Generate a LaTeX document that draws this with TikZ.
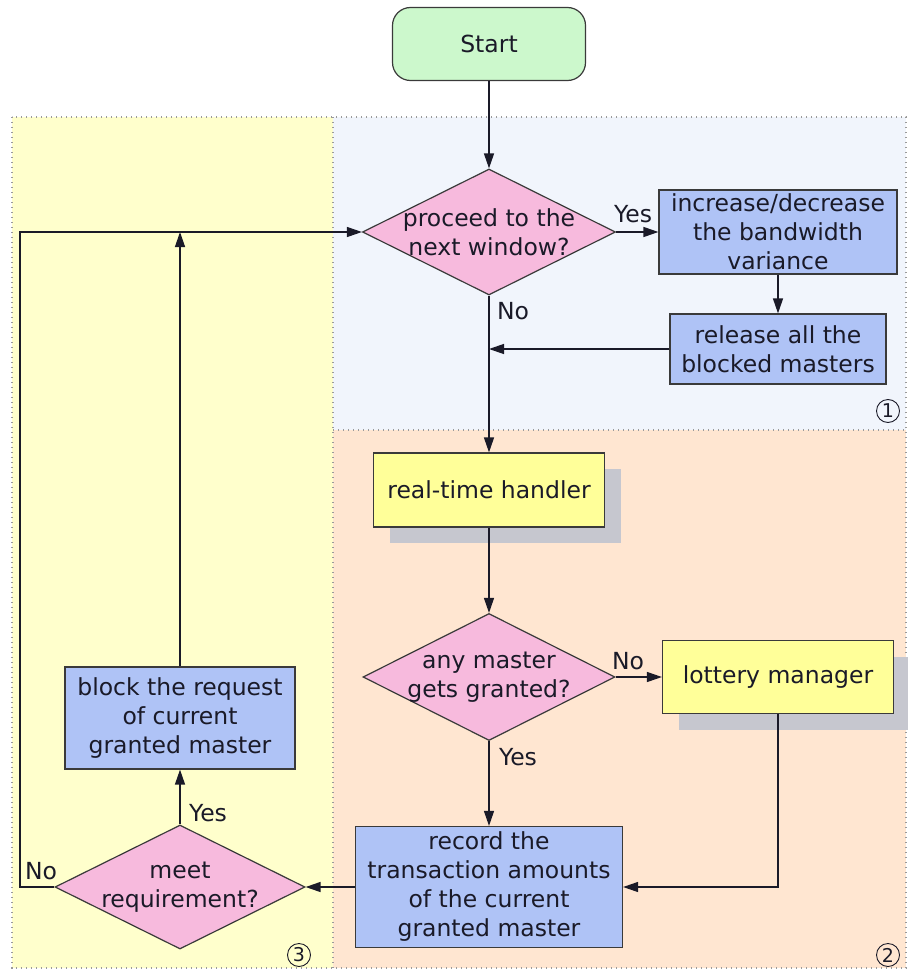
\documentclass[tikz,border=0pt]{standalone}
\usepackage{fontspec}
\setmainfont{DejaVu Sans}
\usetikzlibrary{shapes.geometric,arrows.meta,shadows}

\definecolor{zoneyellow}{HTML}{FFFFCC}
\definecolor{zoneblue}{HTML}{F1F5FC}
\definecolor{zonepeach}{HTML}{FFE6D1}
\definecolor{startgreen}{HTML}{CCF8CC}
\definecolor{decpink}{HTML}{F7BADD}
\definecolor{procblue}{HTML}{AFC3F6}
\definecolor{procyellow}{HTML}{FFFF99}
\definecolor{shadowgray}{HTML}{C6C7CF}
\definecolor{edgegray}{HTML}{3A3A3A}
\definecolor{inkdark}{HTML}{1A1A28}
\definecolor{dotgray}{HTML}{9A9A9A}

\tikzset{
  base/.style={font=\fontsize{23.5}{29}\selectfont, text=inkdark, align=center},
  zone/.style={draw=dotgray, line width=1.3pt, dash pattern=on 1.3pt off 3.7pt},
  startbox/.style={base, draw=edgegray, line width=1.2pt, fill=startgreen,
    rounded corners=18pt, minimum width=193pt, minimum height=73pt},
  decision/.style={diamond, draw=edgegray, line width=1.2pt, fill=decpink,
    inner sep=0pt},
  procbox/.style={base, draw=edgegray, line width=1.2pt, fill=procblue, inner sep=2pt},
  handlerbox/.style={base, draw=edgegray, line width=1.2pt, fill=procyellow, inner sep=2pt,
    drop shadow={shadow xshift=16pt, shadow yshift=-16pt, fill=shadowgray, opacity=1}},
  lbl/.style={base, inner sep=0pt},
  zonenum/.style={circle, draw=inkdark, line width=0.9pt, minimum size=23pt, inner sep=0pt,
    font=\fontsize{19}{22}\selectfont, text=inkdark},
  flow/.style={draw=inkdark, line width=1.3pt, -{Triangle[length=15pt,width=10pt]}},
  plain/.style={draw=inkdark, line width=1.3pt}
}

\begin{document}
\begin{tikzpicture}[x=1pt, y=-1pt]
  \useasboundingbox (0,0) rectangle (907,971);

  % shaded zones
  \fill[zoneyellow] (12,117) rectangle (333,968);
  \fill[zoneblue] (333,117) rectangle (906,430);
  \fill[zonepeach] (333,430) rectangle (906,968);
  \draw[zone] (12,117) rectangle (906,968);
  \draw[zone] (333,117) -- (333,968);
  \draw[zone] (333,430) -- (906,430);

  % zone numbers
  \node[zonenum] (z1) at (888,411) {1};
  \node[zonenum] (z2) at (888,955) {2};
  \node[zonenum] (z3) at (299,955) {3};

  % nodes
  \node[startbox] (start) at (489,44) {Start};

  \node[decision, minimum width=253pt, minimum height=126pt] (d1) at (489,232) {};
  \node[base] (d1t) at (d1.center) {proceed to the\\next window?};

  \node[procbox, minimum width=238pt, minimum height=84pt] (inc) at (778,232)
    {increase/decrease\\the bandwidth\\variance};
  \node[procbox, minimum width=216pt, minimum height=70pt] (rel) at (778,349)
    {release all the\\blocked masters};

  \node[handlerbox, minimum width=231pt, minimum height=74pt] (rth) at (489,490)
    {real-time handler};

  \node[decision, minimum width=252pt, minimum height=127pt] (d2) at (489,677) {};
  \node[base] (d2t) at (d2.center) {any master\\gets granted?};

  \node[handlerbox, minimum width=231pt, minimum height=73pt] (lot) at (778,677)
    {lottery manager};

  \node[procbox, minimum width=267pt, minimum height=121pt] (rec) at (489,887)
    {record the\\transaction amounts\\of the current\\granted master};

  \node[decision, minimum width=250pt, minimum height=124pt] (d3) at (180,887) {};
  \node[base] (d3t) at (d3.center) {meet\\requirement?};

  \node[procbox, minimum width=230pt, minimum height=102pt] (blk) at (180,718)
    {block the request\\of current\\granted master};

  \coordinate (loopx) at (20,0);

  % connectors
  \draw[flow] (start.south) -- (d1.north);
  \draw[flow] (d1.east) -- (inc.west);
  \draw[flow] (inc.south) -- (rel.north);
  \draw[flow] (rel.west) -- (d1.south |- rel.west);
  \draw[flow] (d1.south) -- (rth.north);
  \draw[flow] (rth.south) -- (d2.north);
  \draw[flow] (d2.east) -- (lot.west);
  \draw[flow] (lot.south) |- (rec.east);
  \draw[flow] (d2.south) -- (rec.north);
  \draw[flow] (rec.west) -- (d3.east);
  \draw[flow] (d3.north) -- (blk.south);
  \draw[flow] (blk.north) -- (blk.north |- d1.west);
  \draw[flow] (d3.west) -- (loopx |- d3.west) -- (loopx |- d1.west) -- (d1.west);

  % branch labels
  \node[lbl] (y1) at (633,214) {Yes};
  \node[lbl] (n1) at (513,311) {No};
  \node[lbl] (n2) at (628,661) {No};
  \node[lbl] (y2) at (518,757) {Yes};
  \node[lbl] (y3) at (208,813) {Yes};
  \node[lbl] (n3) at (41,871) {No};
\end{tikzpicture}
\end{document}
